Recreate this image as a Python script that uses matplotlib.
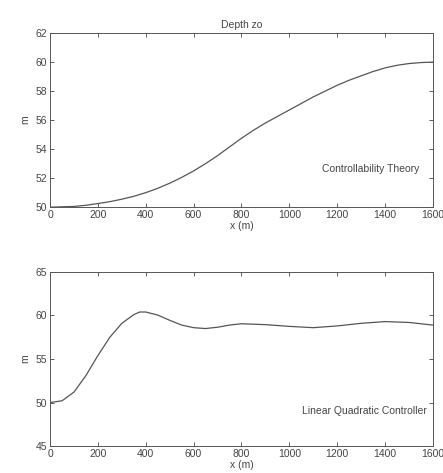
import matplotlib
matplotlib.use("Agg")
import matplotlib.pyplot as plt

# top panel: controllability theory trajectory
x_ct = [0, 100, 150, 200, 250, 300, 350, 400, 450, 500, 550, 600, 650, 700, 750, 800, 850, 900,
        950, 1000, 1050, 1100, 1150, 1200, 1250, 1300, 1350, 1400, 1450, 1500, 1550, 1600]
z_ct = [50.0, 50.05, 50.13, 50.25, 50.38, 50.55, 50.75, 51.0, 51.3, 51.65, 52.05, 52.5, 53.0,
        53.55, 54.15, 54.75, 55.3, 55.8, 56.25, 56.7, 57.15, 57.6, 58.0, 58.4, 58.75, 59.05, 59.35,
        59.6, 59.78, 59.9, 59.97, 60.0]

# bottom panel: linear quadratic controller trajectory
x_lq = [0, 50, 100, 150, 200, 250, 300, 350, 375, 400, 450, 500, 550, 600, 650, 700, 750, 800,
        900, 1000, 1100, 1200, 1300, 1400, 1500, 1600]
z_lq = [50.0, 50.2, 51.2, 53.1, 55.4, 57.5, 59.1, 60.1, 60.4, 60.4, 60.05, 59.45, 58.9, 58.6, 58.5,
        58.65, 58.9, 59.05, 58.95, 58.75, 58.6, 58.8, 59.1, 59.3, 59.2, 58.9]

plt.rcParams["font.family"] = ["Liberation Sans", "DejaVu Sans"]
plt.rcParams["font.size"] = 7.5

fig = plt.figure(figsize=(4.43, 4.73), dpi=100)
ax1 = fig.add_axes([0.113, 0.562, 0.864, 0.368])
ax2 = fig.add_axes([0.113, 0.057, 0.864, 0.368])

line_col = "#555555"
text_col = "#444444"
ax1.plot(x_ct, z_ct, color=line_col, lw=0.9)
ax1.set_xlim(0, 1600)
ax1.set_ylim(50, 62)
ax1.set_yticks(range(50, 63, 2))
ax1.set_title("Depth zo", fontsize=7.5, pad=4, color=text_col)
ax1.set_xlabel("x (m)", labelpad=1, color=text_col)
ax1.set_ylabel("m", labelpad=4, color=text_col)
ax1.text(0.965, 0.22, "Controllability Theory", transform=ax1.transAxes, ha="right",
         va="center", color=text_col)

ax2.plot(x_lq, z_lq, color=line_col, lw=0.9)
ax2.set_xlim(0, 1600)
ax2.set_ylim(45, 65)
ax2.set_yticks(range(45, 66, 5))
ax2.set_xlabel("x (m)", labelpad=1, color=text_col)
ax2.set_ylabel("m", labelpad=4, color=text_col)
ax2.text(0.985, 0.2, "Linear Quadratic Controller", transform=ax2.transAxes, ha="right",
         va="center", color=text_col)

for ax in (ax1, ax2):
    ax.set_xticks(range(0, 1601, 200))
    ax.tick_params(direction="in", top=True, right=True, length=3, width=0.6,
                   pad=2, colors=text_col)
    for s in ax.spines.values():
        s.set_linewidth(0.7)
        s.set_color("#555555")

fig.savefig("out.png", dpi=100)
